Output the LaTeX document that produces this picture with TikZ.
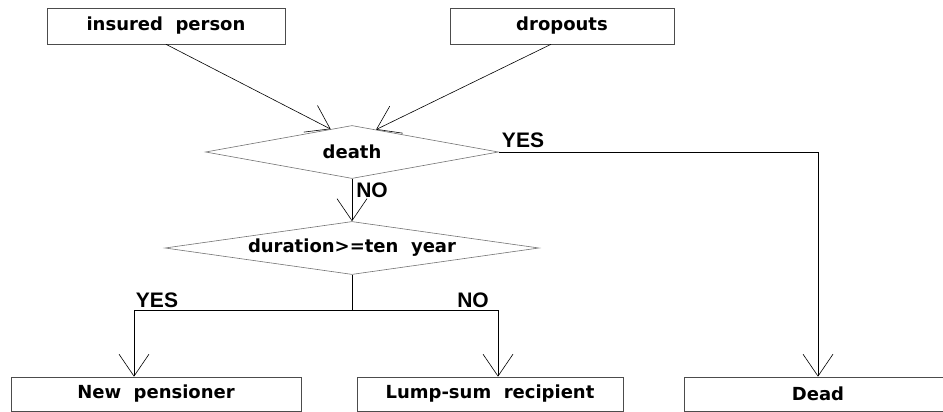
\documentclass[tikz,border=0pt]{standalone}
\usepackage{fontspec}
\setmainfont{DejaVu Sans}
\newfontfamily\answerfont{Liberation Sans}
\usetikzlibrary{arrows.meta}
\usetikzlibrary{shapes.geometric}

\begin{document}
\begin{tikzpicture}[x=1pt,y=-1pt,
    box/.style={draw=black!70,line width=0.6pt,inner sep=0pt,minimum height=36pt,
      font=\fontsize{18}{21}\selectfont\bfseries},
    test/.style={diamond,draw=black!55,line width=0.6pt,inner sep=0pt,minimum height=53pt,
      font=\fontsize{18}{21}\selectfont\bfseries},
    flow/.style={-{Straight Barb[length=22pt,width=30pt]},line width=0.6pt},
    answer/.style={inner sep=0pt,font=\answerfont\fontsize{21}{23}\selectfont\bfseries}]

  \useasboundingbox (0,0) rectangle (943,412);
  \clip (0,0) rectangle (943,412);

  % sources
  \node[box,minimum width=238pt] (insured)  at (166,26) {insured\ \ person};
  \node[box,minimum width=224pt] (dropouts) at (562,26) {dropouts};

  % tests
  \node[test,aspect=5.5,minimum width=293pt] (death)    at (352,152) {death};
  \node[test,aspect=7,minimum width=374pt]   (duration) at (352,248) {duration>=ten\ \ year};

  % outcomes
  \node[box,minimum width=290pt,minimum height=34pt] (newpen)  at (156,394) {New\ \ pensioner};
  \node[box,minimum width=266pt,minimum height=34pt] (lumpsum) at (490,394) {Lump-sum\ \ recipient};
  \node[box,minimum width=268pt,minimum height=34pt] (dead)    at (818,394) {Dead};

  \coordinate (split) at (352,310);

  % connectors
  \draw[flow] (insured.south) -- (death.133);
  \draw[flow] ([xshift=-11pt]dropouts.south) -- (death.43);
  \draw[flow] (death.south) -- (duration.north);
  \draw[flow] (death.east) -| (dead.north);
  \draw (duration.south) -- (split);
  \draw[flow] (split) -| ([xshift=-22pt]newpen.north);
  \draw[flow] (split) -| ([xshift=8pt]lumpsum.north);

  % answers
  \node[answer] (deathno)     at (372,190) {NO};
  \node[answer] (deathyes)    at (523,140) {YES};
  \node[answer] (durationyes) at (157,300) {YES};
  \node[answer] (durationno)  at (473,300) {NO};

\end{tikzpicture}
\end{document}
